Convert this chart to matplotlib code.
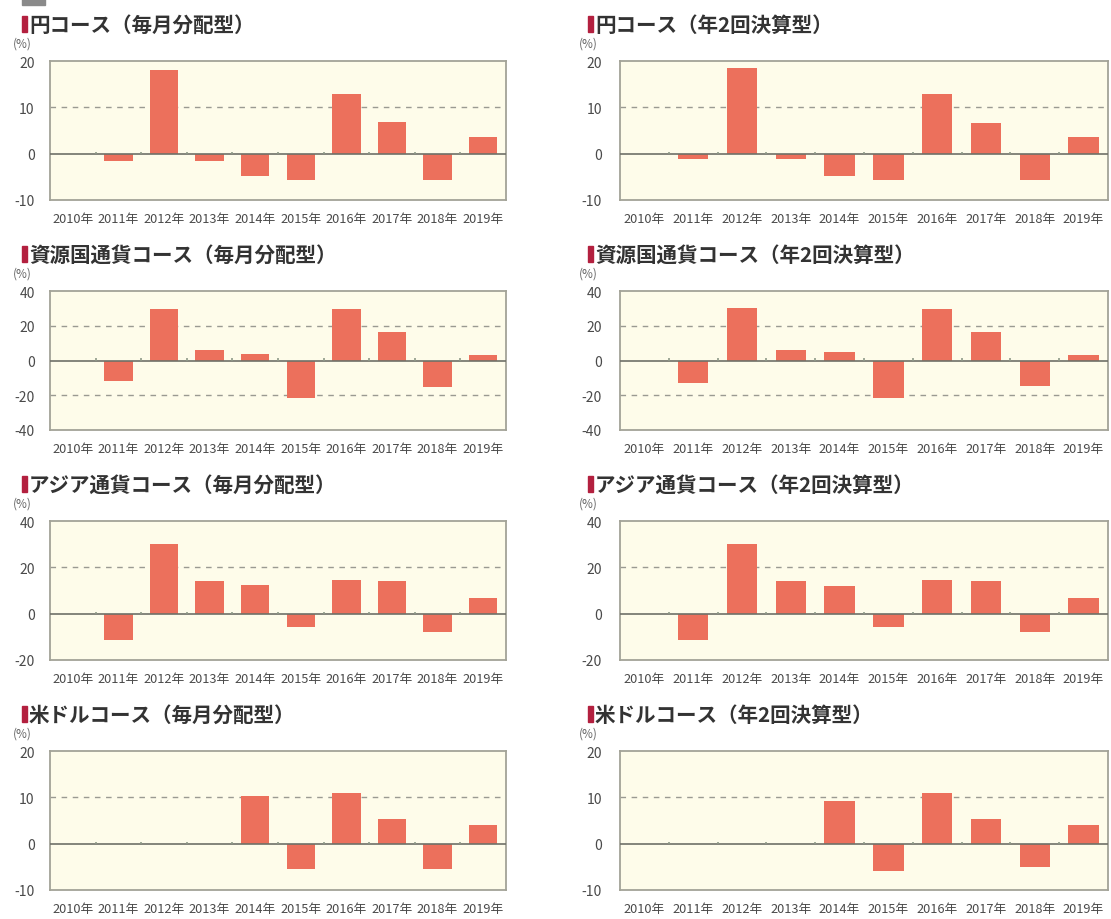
import matplotlib
matplotlib.use("Agg")
import matplotlib.pyplot as plt
from matplotlib.patches import Rectangle

plt.rcParams['font.family'] = ['Noto Sans CJK JP', 'DejaVu Sans']

# ---------------------------------------------------------------------------------
# Data (annual returns, %)
# ---------------------------------------------------------------------------------
years = ['2010年', '2011年', '2012年', '2013年', '2014年',
         '2015年', '2016年', '2017年', '2018年', '2019年']

titles = [
    '円コース（毎月分配型）', '円コース（年2回決算型）',
    '資源国通貨コース（毎月分配型）', '資源国通貨コース（年2回決算型）',
    'アジア通貨コース（毎月分配型）', 'アジア通貨コース（年2回決算型）',
    '米ドルコース（毎月分配型）', '米ドルコース（年2回決算型）',
]

yen_monthly = [0, -1.6, 18.1, -1.6, -4.9, -5.7, 12.9, 6.9, -5.7, 3.7]
yen_semi = [0, -1.1, 18.4, -1.1, -4.9, -5.7, 12.9, 6.6, -5.7, 3.7]
res_monthly = [0, -11.9, 29.4, 6.0, 4.0, -21.5, 29.4, 16.3, -15.4, 3.1]
res_semi = [0, -12.9, 30.4, 6.0, 5.0, -21.5, 29.4, 16.3, -14.4, 3.1]
asia_monthly = [0, -11.3, 30.2, 13.9, 12.4, -5.8, 14.7, 13.9, -7.9, 6.8]
asia_semi = [0, -11.3, 30.2, 13.9, 11.8, -5.8, 14.7, 13.9, -7.9, 6.8]
usd_monthly = [0, 0, 0, 0, 10.3, -5.4, 11.0, 5.4, -5.4, 4.0]
usd_semi = [0, 0, 0, 0, 9.2, -5.9, 11.0, 5.4, -5.0, 4.0]

series = [yen_monthly, yen_semi, res_monthly, res_semi,
          asia_monthly, asia_semi, usd_monthly, usd_semi]

yticks_by_row = [
    [-10, 0, 10, 20],
    [-40, -20, 0, 20, 40],
    [-20, 0, 20, 40],
    [-10, 0, 10, 20],
]

# ---------------------------------------------------------------------------------
# Style
# ---------------------------------------------------------------------------------
BAR = '#EC705C'
BG = '#FEFCEA'
FRAME = '#A3A397'
GRID = '#9A9A92'
TEXT = '#4a4a4a'
MARK = '#B3203F'

W, H = 1111, 920
fig = plt.figure(figsize=(W / 100, H / 100), dpi=100)

# faint remnant of a header at the very top
fig.patches.append(Rectangle((22 / W, 1 - 6 / H), 23 / W, 6 / H,
                             transform=fig.transFigure, color='#8a8a8a'))

cols = [(50, 456), (620, 488)]          # left px, width px
row_top = [62, 292, 522, 752]
ax_h = 139

x = list(range(len(years)))

for i, vals in enumerate(series):
    r, c = divmod(i, 2)
    left, width = cols[c]
    top = row_top[r]
    ax = fig.add_axes([left / W, 1 - (top + ax_h) / H, width / W, ax_h / H])
    ax.set_facecolor(BG)

    ticks = yticks_by_row[r]
    ax.set_ylim(ticks[0], ticks[-1])
    ax.set_xlim(-0.5, len(years) - 0.5)

    for t in ticks[1:-1]:
        if t != 0:
            ax.axhline(t, color=GRID, lw=1.0, ls=(0, (4, 4)), zorder=1)

    bars_x = [xi for xi, v in zip(x, vals) if v != 0]
    bars_v = [v for v in vals if v != 0]
    ax.bar(bars_x, bars_v, width=0.62, color=BAR, zorder=2)

    ax.axhline(0, color='#6f7068', lw=1.2, zorder=3)
    # small boundary marks sitting on the zero line
    span = ticks[-1] - ticks[0]
    ax.vlines([xi + 0.5 for xi in x[:-1]], 0, span * 0.015,
              color='#8f9a88', lw=1.2, zorder=3)

    ax.set_xticks(x)
    ax.set_xticklabels(years, fontsize=9.2, color=TEXT)
    ax.set_yticks(ticks)
    ax.set_yticklabels([str(t) for t in ticks], fontsize=10, color=TEXT)
    ax.tick_params(length=0)
    ax.tick_params(axis='x', pad=9)
    ax.tick_params(axis='y', pad=11 if c == 0 else 13)

    for s in ax.spines.values():
        s.set_color(FRAME)
        s.set_linewidth(1.3)

    # panel title with red marker
    tx = 22 if c == 0 else 588
    ty = top - 37
    fig.patches.append(Rectangle((tx / W, 1 - (ty + 8) / H), 5 / W, 16 / H,
                                 transform=fig.transFigure, color=MARK))
    fig.text((tx + 7) / W, 1 - ty / H, titles[i], color='#333333',
             fontsize=14.8, fontweight='bold', va='center', ha='left')
    fig.text((tx - 9) / W, 1 - (top - 18) / H, '(%)', color='#666666',
             fontsize=8.5, va='center', ha='left')

fig.savefig('out.png', dpi=100, facecolor='white')
